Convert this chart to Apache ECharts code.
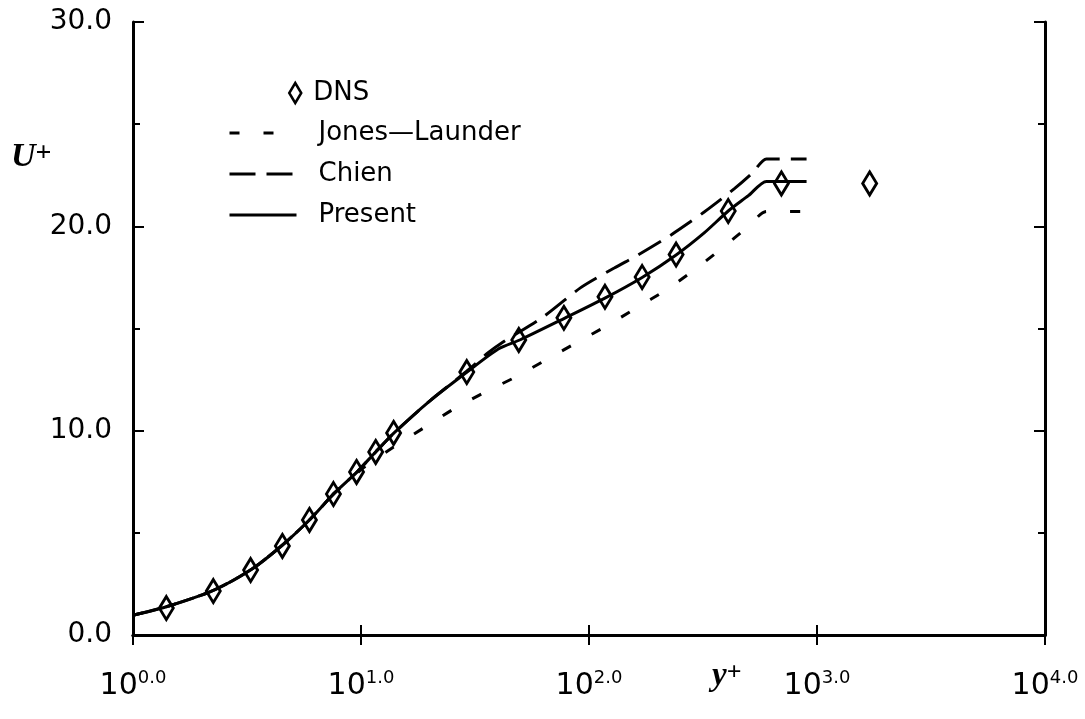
<!DOCTYPE html>
<html><head><meta charset="utf-8">
<script src="https://cdn.jsdelivr.net/npm/echarts@6/dist/echarts.min.js"></script>
<style>html,body{margin:0;padding:0;background:#fff}#c{width:1085px;height:719px}</style>
</head><body><div id="c"></div>
<script>
// ---- data ----
const dnsX = [1.40, 2.25, 3.28, 4.52, 5.94, 7.57, 9.56, 11.6, 13.9, 29.1, 49.2, 77.6, 117.5, 171, 241, 408, 698, 1702];
const dnsY = [1.32, 2.15, 3.18, 4.36, 5.63, 6.90, 7.98, 8.96, 9.89, 12.87, 14.44, 15.52, 16.55, 17.52, 18.62, 20.75, 22.1, 22.1];

const presentX = [1, 1.4, 2.25, 3.3, 4.5, 6, 7.6, 9.6, 11.6, 14, 20, 29, 40, 50, 78, 118, 171, 241, 320, 408, 500, 600, 900];
const presentY = [0.97, 1.38, 2.18, 3.2, 4.38, 5.68, 6.92, 7.98, 8.96, 9.9, 11.45, 12.85, 14.0, 14.45, 15.5, 16.5, 17.5, 18.6, 19.68, 20.75, 21.5, 22.2, 22.2];

const chienX = [1, 1.4, 2.25, 3.3, 4.5, 6, 7.6, 9.6, 11.6, 14, 20, 29, 36, 42, 63, 92, 129, 164, 229, 320, 433, 520, 600, 900];
const chienY = [0.97, 1.38, 2.18, 3.2, 4.38, 5.68, 6.92, 7.98, 8.96, 9.9, 11.45, 12.9, 13.8, 14.34, 15.57, 17.0, 17.96, 18.6, 19.58, 20.7, 21.83, 22.6, 23.3, 23.3];

const jonesX = [1, 1.4, 2.25, 3.3, 4.5, 6, 7.6, 9.0, 10.2, 13.9, 18.8, 25.5, 34.5, 47.7, 64.7, 92, 119, 161, 218, 290, 380, 500, 600, 900];
const jonesY = [0.97, 1.38, 2.18, 3.2, 4.38, 5.68, 6.92, 7.62, 8.17, 9.2, 10.13, 11.06, 11.85, 12.63, 13.46, 14.42, 15.12, 16.0, 16.89, 17.87, 18.9, 20.0, 20.73, 20.73];

const yTicks = [0, 10, 20, 30];
const xDecades = [0, 1, 2, 3, 4];
const seriesNames = ['DNS', 'Jones\u2014Launder', 'Chien', 'Present'];

const zip = (xs, ys) => xs.map((x, i) => [x, ys[i]]);
const FONT = 'DejaVu Sans';
const JONES_DASH = [10, 24];
const CHIEN_DASH = [26, 11];
const LW = 3;

const chart = echarts.init(document.getElementById('c'), null, {renderer: 'canvas'});

const baseX = {
  type: 'log', logBase: 10,
  min: Math.pow(10, xDecades[0]), max: Math.pow(10, xDecades[xDecades.length - 1]),
  axisLine: {show: true, lineStyle: {color: '#000', width: 3}},
  axisTick: {show: true, inside: true, length: 10, lineStyle: {color: '#000', width: 2}},
  minorTick: {show: false},
  splitLine: {show: false}
};
const baseY = {
  type: 'value', min: yTicks[0], max: yTicks[yTicks.length - 1], interval: 10,
  axisLine: {show: true, lineStyle: {color: '#000', width: 3}},
  axisTick: {show: true, inside: true, length: 11, lineStyle: {color: '#000', width: 2}},
  minorTick: {show: true, splitNumber: 2, length: 7, lineStyle: {color: '#000', width: 2}},
  splitLine: {show: false}
};

const lineCommon = {type: 'line', symbol: 'none', showSymbol: false, smooth: 0.25, z: 3, color: '#000'};

chart.setOption({
  animation: false,
  backgroundColor: '#fff',
  color: ['#000'],
  grid: {left: 133, right: 40, top: 22, bottom: 84, containLabel: false},
  xAxis: [
    Object.assign({}, baseX, {
      position: 'bottom',
      axisLabel: {
        show: true, margin: 34, color: '#000',
        formatter: v => '{b|10}{s|' + Math.round(Math.log10(v)).toFixed(1) + '}',
        rich: {
          b: {fontFamily: FONT, fontSize: 30, lineHeight: 34, color: '#000'},
          s: {fontFamily: FONT, fontSize: 18, lineHeight: 7, verticalAlign: 'top', color: '#000'}
        }
      }
    }),
    Object.assign({}, baseX, {position: 'top', axisLabel: {show: false}})
  ],
  yAxis: [
    Object.assign({}, baseY, {
      position: 'left',
      axisLabel: {show: true, margin: 21, color: '#000', fontFamily: FONT, fontSize: 28,
        lineHeight: 28, padding: [8, 0, 0, 0], formatter: v => v.toFixed(1)}
    }),
    Object.assign({}, baseY, {position: 'right', axisLabel: {show: false}})
  ],
  legend: [
    {
      data: [{name: seriesNames[0], icon: 'diamond'}],
      left: 288, top: 78, orient: 'vertical', padding: 0,
      itemWidth: 12, itemHeight: 20,
      itemStyle: {color: 'rgba(255,255,255,0)', borderColor: '#000', borderWidth: 2.5, opacity: 1},
      textStyle: {fontFamily: FONT, fontSize: 26, color: '#000', lineHeight: 30, padding: [0, 0, 0, 7]},
      selectedMode: false
    },
    {
      data: [
        {name: seriesNames[1], itemStyle: {opacity: 0}, lineStyle: {color: '#000', width: LW, type: JONES_DASH}},
        {name: seriesNames[2], itemStyle: {opacity: 0}, lineStyle: {color: '#000', width: LW, type: CHIEN_DASH}},
        {name: seriesNames[3], itemStyle: {opacity: 0}, lineStyle: {color: '#000', width: LW, type: 'solid'}}
      ],
      left: 228, top: 118, orient: 'vertical', padding: 0,
      itemWidth: 67, itemHeight: 14, itemGap: 11,
      itemStyle: {opacity: 0},
      textStyle: {fontFamily: FONT, fontSize: 26, color: '#000', lineHeight: 30, padding: [0, 0, 0, 17]},
      selectedMode: false
    }
  ],
  graphic: [
    {type: 'text', left: 11, top: 140, style: {
      text: '{u|U}{p|+}',
      rich: {
        u: {fontFamily: 'Liberation Serif', fontStyle: 'italic', fontWeight: 'bold', fontSize: 34, fill: '#000'},
        p: {fontFamily: 'Liberation Serif', fontWeight: 'bold', fontSize: 28, fill: '#000', verticalAlign: 'top', lineHeight: 14}
      }
    }},
    {type: 'text', left: 712, top: 660, style: {
      text: '{u|y}{p|+}',
      rich: {
        u: {fontFamily: 'Liberation Serif', fontStyle: 'italic', fontWeight: 'bold', fontSize: 33, fill: '#000'},
        p: {fontFamily: 'Liberation Serif', fontWeight: 'bold', fontSize: 26, fill: '#000', verticalAlign: 'top', lineHeight: 14}
      }
    }}
  ],
  series: [
    {
      name: seriesNames[0], type: 'scatter', xAxisIndex: 0, yAxisIndex: 0,
      data: zip(dnsX, dnsY), symbol: 'diamond', symbolSize: [14, 23], z: 5,
      itemStyle: {color: 'rgba(255,255,255,0)', borderColor: '#000', borderWidth: 3, opacity: 1}
    },
    Object.assign({}, lineCommon, {
      name: seriesNames[1], data: zip(jonesX, jonesY),
      lineStyle: {color: '#000', width: LW, type: JONES_DASH}
    }),
    Object.assign({}, lineCommon, {
      name: seriesNames[2], data: zip(chienX, chienY),
      lineStyle: {color: '#000', width: LW, type: CHIEN_DASH}
    }),
    Object.assign({}, lineCommon, {
      name: seriesNames[3], data: zip(presentX, presentY),
      lineStyle: {color: '#000', width: LW, type: 'solid'}
    })
  ]
});
</script></body></html>
